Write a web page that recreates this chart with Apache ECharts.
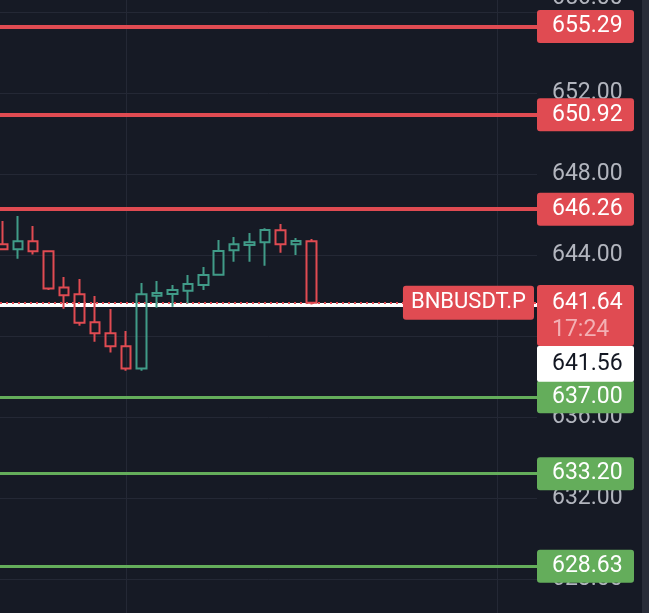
<!DOCTYPE html>
<html>
<head>
<meta charset="utf-8">
<script src="https://cdn.jsdelivr.net/npm/echarts@6/dist/echarts.min.js"></script>
<style>
html,body{margin:0;padding:0;background:#161a25;overflow:hidden;}
#c{width:649px;height:613px;}
</style>
</head>
<body>
<div id="c"></div>
<script>
// ---- data ----
const slots  = [0, 1, 2, 3, 4, 5, 6, 7, 8, 9, 10, 11, 12, 13, 14, 15, 16, 17, 18, 19, 20];
const opens  = [644.53, 644.28, 644.68, 644.18, 642.40, 642.06, 640.68, 640.13, 639.49, 638.39, 641.99, 642.07, 642.24, 642.52, 643.03, 644.23, 644.49, 644.63, 645.22, 644.53, 644.68];
const closes = [644.28, 644.68, 644.18, 642.34, 642.01, 640.66, 640.13, 639.49, 638.39, 642.06, 642.12, 642.27, 642.57, 643.01, 644.20, 644.53, 644.63, 645.23, 644.53, 644.69, 641.64];
const lows   = [644.28, 643.82, 644.02, 642.27, 641.35, 640.51, 639.72, 639.18, 638.29, 638.29, 641.40, 641.45, 641.60, 642.27, 643.03, 643.67, 643.67, 643.47, 644.11, 644.00, 641.56];
const highs  = [645.68, 645.93, 645.43, 644.20, 642.91, 642.81, 641.98, 641.33, 640.25, 642.62, 642.72, 642.52, 643.01, 643.41, 644.74, 644.89, 645.09, 645.32, 645.53, 644.84, 644.79];
const resistance = [655.29, 650.92, 646.26];
const support    = [637.00, 633.20, 628.63];
const lastPrice = 641.64;
const markPrice = 641.56;
const symbolName = 'BNBUSDT.P';
const countdown = '17:24';
const timeGridSlots = [8, 32];
const priceMin = 624, priceMax = 660, priceStep = 4;
const slotMin = -0.15, slotMax = 34.59;

// ---- styles ----
const BG = '#161a25';
const GRID = '#242835';
const RED = '#e04b52';
const GREEN = '#64ad5b';
const TEAL = '#409b88';
const AXIS_TXT = '#b2b5be';
const FONT = 'Roboto';

const candleData = slots.map((s, i) => [s, opens[i], closes[i], lows[i], highs[i]]);

function boxLabel(bg, v) {
  return {
    show: true, position: 'end', distance: 0,
    formatter: v.toFixed(2),
    color: '#ffffff', fontSize: 23, fontFamily: FONT,
    backgroundColor: bg, borderRadius: 3,
    padding: [0, 0, 0, 15], width: 82, lineHeight: 33
  };
}

const markData = [];
timeGridSlots.forEach(s => markData.push({
  xAxis: s, lineStyle: { color: GRID, width: 1, type: 'solid' }, label: { show: false }
}));
resistance.forEach(v => markData.push({
  yAxis: v, lineStyle: { color: RED, width: 4, type: 'solid' }, label: boxLabel(RED, v)
}));
support.forEach(v => markData.push({
  yAxis: v, lineStyle: { color: GREEN, width: 3, type: 'solid' }, label: boxLabel(GREEN, v)
}));
markData.push({
  yAxis: markPrice, lineStyle: { color: '#ffffff', width: 4, type: 'solid' },
  label: {
    show: true, position: 'end', distance: 0,
    formatter: '{s| }\n{w|' + markPrice.toFixed(2) + '}',
    fontFamily: FONT, fontSize: 23,
    rich: {
      s: { height: 119, lineHeight: 119, fontSize: 10, color: 'rgba(0,0,0,0)' },
      w: { width: 82, padding: [0, 0, 0, 15], height: 35.6, lineHeight: 35.6,
           backgroundColor: '#ffffff', color: '#131722', fontSize: 23, fontFamily: FONT, borderRadius: 2 }
    }
  }
});
markData.push({
  yAxis: lastPrice, lineStyle: { color: RED, width: 2, type: [2, 4] },
  label: {
    show: true, position: 'end', distance: 0,
    formatter: '{s| }\n{p|' + lastPrice.toFixed(2) + '}\n{t|' + countdown + '}',
    fontFamily: FONT, fontSize: 23,
    rich: {
      s: { height: 25.6, lineHeight: 25.6, fontSize: 10, color: 'rgba(0,0,0,0)' },
      p: { width: 82, padding: [0, 0, 0, 15], height: 36, lineHeight: 36,
           backgroundColor: RED, color: '#ffffff', fontSize: 23, fontFamily: FONT, borderRadius: [3, 3, 0, 0] },
      t: { width: 82, padding: [0, 0, 6, 15], height: 19, lineHeight: 25,
           backgroundColor: RED, color: '#f3b0b4', fontSize: 23, fontFamily: FONT, borderRadius: [0, 0, 3, 3] }
    }
  }
});
markData.push({
  yAxis: lastPrice, lineStyle: { color: 'rgba(0,0,0,0)', width: 0, type: 'solid' },
  label: {
    show: true, position: 'insideEnd', distance: 3, opacity: 1,
    formatter: symbolName, color: '#ffffff', fontSize: 22, fontFamily: FONT,
    backgroundColor: RED, borderRadius: 3, padding: [0, 8], lineHeight: 34
  }
});

const chart = echarts.init(document.getElementById('c'), null, { renderer: 'canvas' });
chart.setOption({
  backgroundColor: BG,
  animation: false,
  grid: { left: 0, right: 112, top: -69, bottom: -47, containLabel: false, outerBoundsMode: 'none' },
  xAxis: {
    type: 'value', min: slotMin, max: slotMax,
    axisLine: { show: false }, axisTick: { show: false }, axisLabel: { show: false },
    splitLine: { show: false }
  },
  yAxis: {
    type: 'value', position: 'right', min: priceMin, max: priceMax, interval: priceStep,
    axisLine: { show: false }, axisTick: { show: false },
    splitLine: { lineStyle: { color: GRID, width: 1 } },
    axisLabel: {
      margin: 15, color: AXIS_TXT, fontSize: 23, fontFamily: FONT,
      formatter: v => v === 656 ? '{top|656.00}' : v.toFixed(2),
      rich: { top: { padding: [0, 0, 27, 0], fontSize: 23, color: AXIS_TXT, fontFamily: FONT } }
    }
  },
  graphic: [{
    type: 'rect', right: 0, top: 0, z: 100,
    shape: { width: 7, height: 613 }, style: { fill: '#292d38' }
  }],
  series: [{
    type: 'candlestick',
    data: candleData,
    barWidth: 10,
    z: 3,
    itemStyle: {
      color: 'rgba(0,0,0,0)', color0: 'rgba(0,0,0,0)',
      borderColor: TEAL, borderColor0: RED, borderWidth: 2
    },
    markLine: {
      z: 1, silent: true, symbol: 'none', animation: false,
      lineStyle: { type: 'solid' },
      data: markData
    }
  }]
});
</script>
</body>
</html>
